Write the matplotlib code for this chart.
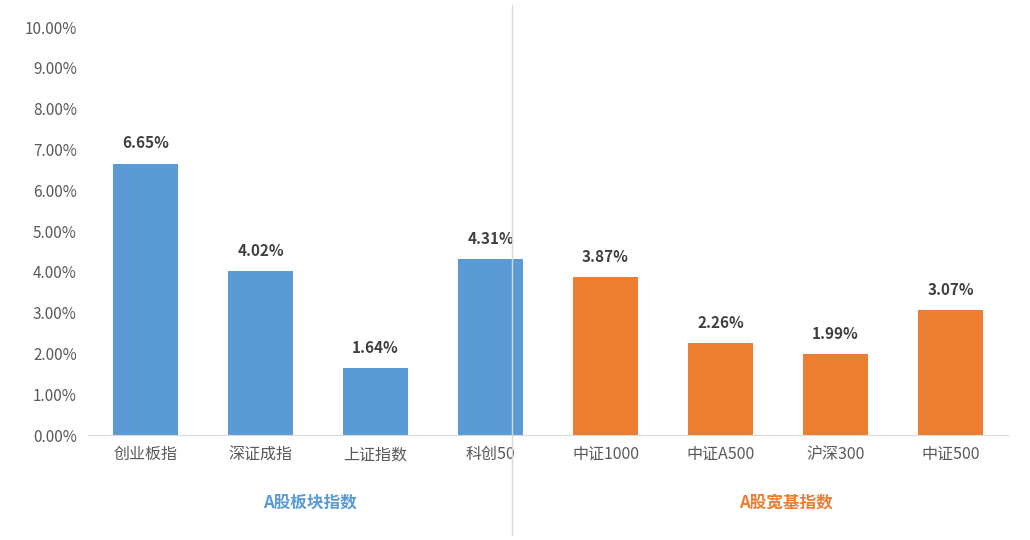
import matplotlib
matplotlib.use("Agg")
import matplotlib.pyplot as plt
from matplotlib.lines import Line2D

plt.rcParams['font.family'] = ['Noto Sans CJK SC', 'DejaVu Sans']

categories = ["创业板指", "深证成指", "上证指数", "科创50", "中证1000", "中证A500", "沪深300", "中证500"]
values = [6.65, 4.02, 1.64, 4.31, 3.87, 2.26, 1.99, 3.07]
groups = ["A股板块指数", "A股宽基指数"]
blue, orange = "#5B9BD5", "#ED7D31"
colors = [blue]*4 + [orange]*4

fig = plt.figure(figsize=(10.3, 5.4), dpi=100)
ax = fig.add_axes([88/1030, 105/540, 920/1030, 408/540])
x = range(len(categories))
ax.bar(x, values, width=0.57, color=colors)
for i, v in zip(x, values):
    ax.text(i, v + 0.3, f"{v:.2f}%", ha="center", va="bottom", fontsize=11,
            fontweight="bold", color="#404040")
ax.set_xlim(-0.5, 7.5)
ax.set_ylim(0, 10)
ax.set_yticks([i for i in range(11)])
ax.set_yticklabels([f"{i:.2f}%" for i in range(11)], fontsize=11, color="#595959")
ax.set_xticks(list(x))
ax.set_xticklabels(categories, fontsize=11.5, color="#595959")
ax.tick_params(length=0, pad=8)
for s in ["top", "right", "left"]:
    ax.spines[s].set_visible(False)
ax.spines["bottom"].set_color("#D9D9D9")
fig.add_artist(Line2D([512/1030, 512/1030], [5/540, 535/540], color="#D9D9D9", lw=1))
fig.text(310/1030, 1 - 502/540, groups[0], ha="center", va="center", fontsize=12,
         fontweight="bold", color=blue)
fig.text(786/1030, 1 - 502/540, groups[1], ha="center", va="center", fontsize=12,
         fontweight="bold", color=orange)
fig.savefig("out.png", dpi=100)
